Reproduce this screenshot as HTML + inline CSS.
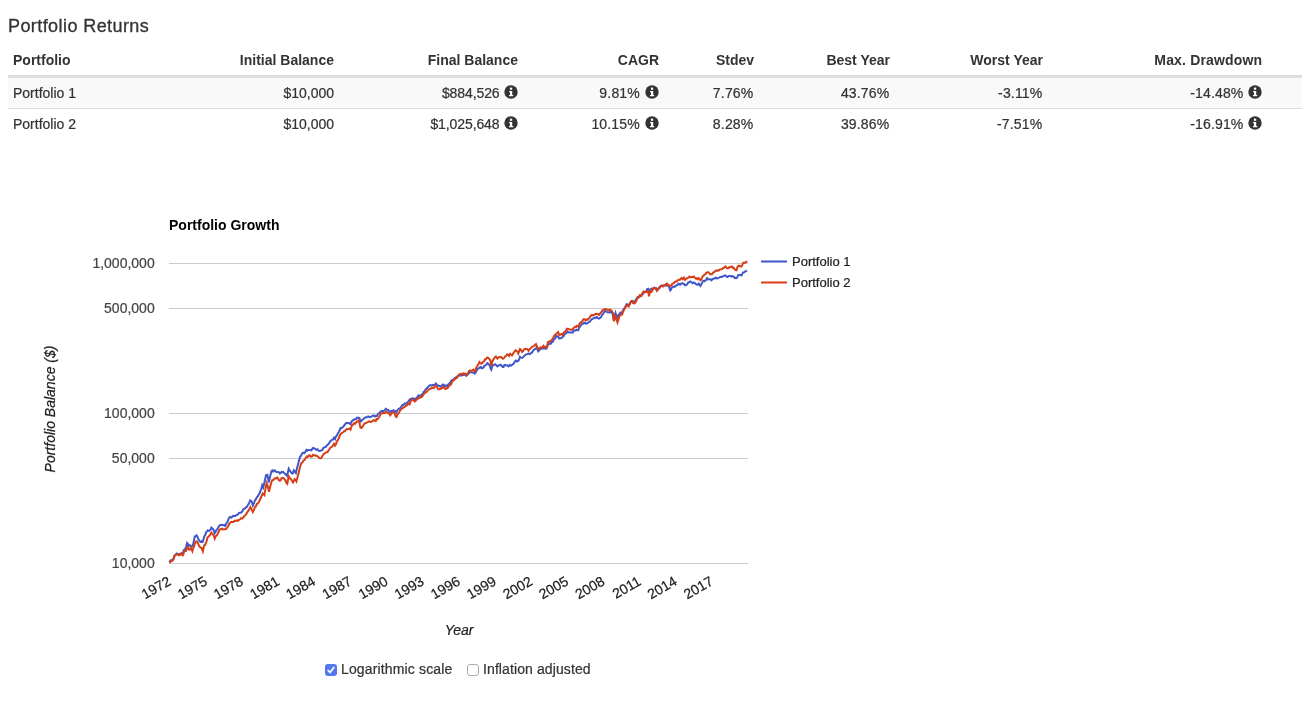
<!DOCTYPE html>
<html><head><meta charset="utf-8"><title>Portfolio Returns</title>
<style>
html,body{margin:0;padding:0;background:#fff;}
body{width:1302px;height:724px;position:relative;overflow:hidden;font-family:"Liberation Sans",Arial,Helvetica,sans-serif;font-size:14px;line-height:20px;color:#333;}
h4{position:absolute;left:8px;top:16px;margin:0;font-size:18px;font-weight:normal;line-height:20px;color:#333;white-space:nowrap;letter-spacing:0.42px;-webkit-text-stroke:0.3px #333;}
.tbl{position:absolute;left:8px;top:45px;width:1294px;height:94px;}
.hr{position:absolute;left:0;top:30px;width:1294px;height:2px;background:#ddd;}
.hr2{position:absolute;left:0;top:32px;width:1294px;height:1px;background:#e1e1e1;z-index:2;}
.r1{position:absolute;left:0;top:32px;width:1294px;height:31px;background:#f9f9f9;}
.r2{position:absolute;left:0;top:63px;width:1294px;height:1px;background:#ddd;}
.c{position:absolute;white-space:nowrap;height:20px;line-height:20px;-webkit-text-stroke:0.22px #333;}
.h{font-weight:bold;-webkit-text-stroke:0;}
.ic{position:absolute;}
.ck{position:absolute;top:664px;width:12px;height:12px;box-sizing:border-box;border-radius:3px;}
.ck.on{background:#5277ee;}
.ck.off{background:#fff;border:1px solid #aaa;}
.lb{position:absolute;top:659px;height:20px;line-height:20px;font-size:14px;color:#333;white-space:nowrap;letter-spacing:0.1px;-webkit-text-stroke:0.22px #333;}
svg text{font-family:"Liberation Sans",Arial,Helvetica,sans-serif;stroke-width:0.22px;}
svg text.a{stroke:#222;}svg text.t{stroke:#444;}svg text.k{stroke:none;}
</style></head><body>
<h4>Portfolio Returns</h4>
<div class="tbl"><div class="hr"></div><div class="hr2"></div><div class="r1"></div><div class="r2"></div>
<div class="c h" style="left:5px;top:5px">Portfolio</div><div class="c h" style="right:968.0px;top:5px;">Initial Balance</div><div class="c h" style="right:784.0px;top:5px;">Final Balance</div><div class="c h" style="right:643.0px;top:5px;">CAGR</div><div class="c h" style="right:548.0px;top:5px;">Stdev</div><div class="c h" style="right:412.0px;top:5px;">Best Year</div><div class="c h" style="right:259.0px;top:5px;">Worst Year</div><div class="c h" style="right:39.8px;top:5px;letter-spacing:0.16px;">Max. Drawdown</div><div class="c" style="left:5px;top:38px">Portfolio 1</div><div class="c" style="right:968.0px;top:38px;">$10,000</div><div class="c" style="right:802.5px;top:38px;letter-spacing:-0.1px;">$884,526</div><div class="c" style="right:662.1px;top:38px;letter-spacing:0.17px;">9.81%</div><div class="c" style="right:548.6px;top:38px;letter-spacing:0.17px;">7.76%</div><div class="c" style="right:412.6px;top:38px;letter-spacing:0.17px;">43.76%</div><div class="c" style="right:259.6px;top:38px;letter-spacing:0.17px;">-3.11%</div><div class="c" style="right:58.5px;top:38px;letter-spacing:0.17px;">-14.48%</div><div class="c" style="left:5px;top:69px">Portfolio 2</div><div class="c" style="right:968.0px;top:69px;">$10,000</div><div class="c" style="right:802.5px;top:69px;letter-spacing:-0.1px;">$1,025,648</div><div class="c" style="right:662.1px;top:69px;letter-spacing:0.17px;">10.15%</div><div class="c" style="right:548.6px;top:69px;letter-spacing:0.17px;">8.28%</div><div class="c" style="right:412.6px;top:69px;letter-spacing:0.17px;">39.86%</div><div class="c" style="right:259.6px;top:69px;letter-spacing:0.17px;">-7.51%</div><div class="c" style="right:58.5px;top:69px;letter-spacing:0.17px;">-16.91%</div></div>
<svg class="ic" style="left:503.9px;top:85.0px" width="14" height="14" viewBox="0 0 14 14"><circle cx="7" cy="7" r="6.7" fill="#333" class="a"/><rect x="5.9" y="2.6" width="2.3" height="2.2" fill="#fff"/><path d="M5.1 5.9h3.1v4h1v1.4H5v-1.4h1V7.2h-.9z" fill="#fff"/></svg><svg class="ic" style="left:644.9px;top:85.0px" width="14" height="14" viewBox="0 0 14 14"><circle cx="7" cy="7" r="6.7" fill="#333" class="a"/><rect x="5.9" y="2.6" width="2.3" height="2.2" fill="#fff"/><path d="M5.1 5.9h3.1v4h1v1.4H5v-1.4h1V7.2h-.9z" fill="#fff"/></svg><svg class="ic" style="left:1247.9px;top:85.0px" width="14" height="14" viewBox="0 0 14 14"><circle cx="7" cy="7" r="6.7" fill="#333" class="a"/><rect x="5.9" y="2.6" width="2.3" height="2.2" fill="#fff"/><path d="M5.1 5.9h3.1v4h1v1.4H5v-1.4h1V7.2h-.9z" fill="#fff"/></svg><svg class="ic" style="left:503.9px;top:116.0px" width="14" height="14" viewBox="0 0 14 14"><circle cx="7" cy="7" r="6.7" fill="#333" class="a"/><rect x="5.9" y="2.6" width="2.3" height="2.2" fill="#fff"/><path d="M5.1 5.9h3.1v4h1v1.4H5v-1.4h1V7.2h-.9z" fill="#fff"/></svg><svg class="ic" style="left:644.9px;top:116.0px" width="14" height="14" viewBox="0 0 14 14"><circle cx="7" cy="7" r="6.7" fill="#333" class="a"/><rect x="5.9" y="2.6" width="2.3" height="2.2" fill="#fff"/><path d="M5.1 5.9h3.1v4h1v1.4H5v-1.4h1V7.2h-.9z" fill="#fff"/></svg><svg class="ic" style="left:1247.9px;top:116.0px" width="14" height="14" viewBox="0 0 14 14"><circle cx="7" cy="7" r="6.7" fill="#333" class="a"/><rect x="5.9" y="2.6" width="2.3" height="2.2" fill="#fff"/><path d="M5.1 5.9h3.1v4h1v1.4H5v-1.4h1V7.2h-.9z" fill="#fff"/></svg>
<svg style="position:absolute;left:0;top:0" width="1302" height="724" viewBox="0 0 1302 724">
<text x="169" y="229.5" font-size="14" font-weight="bold" fill="#000" class="k">Portfolio Growth</text>
<rect x="169" y="263" width="579" height="1" fill="#ccc"/>
<text x="154.7" y="268.1" font-size="14" text-anchor="end" fill="#444" class="t">1,000,000</text>
<rect x="169" y="308" width="579" height="1" fill="#ccc"/>
<text x="154.7" y="313.1" font-size="14" text-anchor="end" fill="#444" class="t">500,000</text>
<rect x="169" y="413" width="579" height="1" fill="#ccc"/>
<text x="154.7" y="418.1" font-size="14" text-anchor="end" fill="#444" class="t">100,000</text>
<rect x="169" y="458" width="579" height="1" fill="#ccc"/>
<text x="154.7" y="463.1" font-size="14" text-anchor="end" fill="#444" class="t">50,000</text>
<rect x="169" y="563" width="579" height="1" fill="#ccc"/>
<text x="154.7" y="568.1" font-size="14" text-anchor="end" fill="#444" class="t">10,000</text>
<text x="172.0" y="584" font-size="14" text-anchor="end" fill="#222" class="a" transform="rotate(-30 172.0 584)">1972</text>
<text x="208.2" y="584" font-size="14" text-anchor="end" fill="#222" class="a" transform="rotate(-30 208.2 584)">1975</text>
<text x="244.3" y="584" font-size="14" text-anchor="end" fill="#222" class="a" transform="rotate(-30 244.3 584)">1978</text>
<text x="280.4" y="584" font-size="14" text-anchor="end" fill="#222" class="a" transform="rotate(-30 280.4 584)">1981</text>
<text x="316.6" y="584" font-size="14" text-anchor="end" fill="#222" class="a" transform="rotate(-30 316.6 584)">1984</text>
<text x="352.8" y="584" font-size="14" text-anchor="end" fill="#222" class="a" transform="rotate(-30 352.8 584)">1987</text>
<text x="388.9" y="584" font-size="14" text-anchor="end" fill="#222" class="a" transform="rotate(-30 388.9 584)">1990</text>
<text x="425.0" y="584" font-size="14" text-anchor="end" fill="#222" class="a" transform="rotate(-30 425.0 584)">1993</text>
<text x="461.2" y="584" font-size="14" text-anchor="end" fill="#222" class="a" transform="rotate(-30 461.2 584)">1996</text>
<text x="497.3" y="584" font-size="14" text-anchor="end" fill="#222" class="a" transform="rotate(-30 497.3 584)">1999</text>
<text x="533.5" y="584" font-size="14" text-anchor="end" fill="#222" class="a" transform="rotate(-30 533.5 584)">2002</text>
<text x="569.6" y="584" font-size="14" text-anchor="end" fill="#222" class="a" transform="rotate(-30 569.6 584)">2005</text>
<text x="605.8" y="584" font-size="14" text-anchor="end" fill="#222" class="a" transform="rotate(-30 605.8 584)">2008</text>
<text x="642.0" y="584" font-size="14" text-anchor="end" fill="#222" class="a" transform="rotate(-30 642.0 584)">2011</text>
<text x="678.1" y="584" font-size="14" text-anchor="end" fill="#222" class="a" transform="rotate(-30 678.1 584)">2014</text>
<text x="714.2" y="584" font-size="14" text-anchor="end" fill="#222" class="a" transform="rotate(-30 714.2 584)">2017</text>
<text x="459.1" y="634.5" font-size="14" font-style="italic" text-anchor="middle" fill="#222" class="a">Year</text>
<text x="54.5" y="409" font-size="14" font-style="italic" text-anchor="middle" fill="#222" class="a" transform="rotate(-90 54.5 409)">Portfolio Balance ($)</text>
<path d="M169.4,562.4L170.2,560.7L171.1,560.2L172.2,560.2L173.3,559.1L174.4,555.7L175.5,555.1L176.6,553.5L177.7,553.7L178.8,554.6L179.7,554.1L180.7,553.5L181.6,553.0L182.7,554.1L183.8,550.2L184.6,549.6L185.4,548.6L186.3,546.3L187.1,543.0L187.9,543.8L188.8,545.8L189.9,545.2L191.0,546.7L192.1,546.4L193.2,544.1L194.0,540.2L194.8,536.4L195.7,536.3L196.5,535.3L197.3,536.2L198.1,538.6L199.0,539.9L199.8,541.4L200.7,541.9L201.6,541.3L202.6,541.9L203.4,539.9L204.2,536.4L205.1,535.4L206.1,532.3L207.0,531.4L207.9,530.3L208.8,530.8L209.8,530.3L210.6,529.7L211.4,527.6L212.2,528.2L213.1,529.2L213.9,530.7L214.7,533.1L215.6,531.7L216.6,529.8L217.5,529.2L218.6,526.8L219.7,525.4L220.8,525.0L221.9,524.8L223.0,525.2L224.1,525.1L225.2,525.9L226.3,523.5L227.4,522.0L228.5,519.1L229.6,517.1L230.5,517.3L231.3,517.6L232.2,516.7L233.1,515.8L234.1,516.0L235.0,516.1L235.9,515.3L236.8,514.9L237.9,514.4L239.0,512.9L240.1,512.7L241.2,512.5L242.3,511.3L243.5,509.1L244.6,508.8L245.5,507.6L246.4,507.3L247.3,506.0L248.2,504.5L249.2,503.0L250.1,500.5L250.9,500.9L251.7,501.6L252.8,505.5L253.9,503.3L255.0,500.2L255.9,499.1L256.8,497.3L257.8,496.3L258.7,494.6L259.6,493.2L260.5,490.8L261.4,488.6L262.2,485.2L263.3,487.5L264.1,483.9L264.9,480.3L266.0,475.3L267.4,474.8L268.8,482.5L269.6,478.8L270.5,474.8L271.6,470.9L272.4,470.4L273.2,471.4L274.1,470.5L274.9,470.3L275.7,471.6L276.5,472.0L277.4,471.9L278.2,472.0L279.0,472.3L279.9,473.6L280.7,472.9L281.5,472.0L282.3,472.3L283.2,472.0L284.0,473.1L284.8,473.6L285.9,474.6L287.0,475.9L287.9,472.2L288.7,468.7L289.5,470.1L290.4,471.4L291.5,473.0L292.6,473.6L293.9,470.3L294.9,471.7L295.9,473.1L296.7,469.6L297.5,466.5L298.4,463.1L299.2,459.8L300.0,457.1L300.9,456.0L302.0,453.6L303.1,452.7L304.2,453.2L305.3,451.9L306.4,449.9L307.3,450.7L308.2,450.0L309.1,449.9L310.2,450.0L311.4,450.4L312.5,448.2L313.4,447.9L314.3,448.6L315.2,448.8L316.3,449.8L317.4,449.3L318.5,450.6L319.6,451.0L320.5,450.8L321.3,450.4L322.2,450.1L323.1,448.2L324.1,447.7L325.0,447.0L325.9,446.9L326.8,445.5L327.7,444.8L328.5,443.8L329.4,442.6L330.3,441.2L331.2,440.5L332.2,439.7L333.1,439.4L334.0,437.7L335.0,439.1L335.9,436.4L336.8,435.8L337.8,433.5L338.7,432.2L339.6,430.5L340.5,428.0L341.4,428.1L342.2,427.5L343.3,426.8L344.4,425.2L345.2,424.2L346.0,423.0L347.2,423.1L348.3,423.0L349.4,423.5L350.5,424.1L351.6,421.5L352.7,420.3L353.5,420.3L354.3,419.2L355.2,419.3L356.0,419.2L356.8,417.9L357.7,417.5L358.5,417.8L359.3,418.1L360.1,419.7L361.0,421.4L362.1,420.0L363.2,419.2L364.3,418.1L365.4,417.5L366.3,417.2L367.2,417.0L368.1,416.4L369.3,416.9L370.4,417.0L371.5,416.3L372.6,415.9L373.7,415.4L374.8,416.4L375.9,415.7L377.0,415.9L378.1,414.0L379.2,413.1L380.3,412.1L381.4,410.9L382.5,411.5L383.6,410.9L384.7,410.3L385.8,408.7L386.9,409.7L388.0,409.8L389.1,411.4L390.2,412.0L391.1,411.0L391.9,410.9L392.7,411.2L393.6,410.3L394.5,411.3L395.4,411.1L396.3,412.5L397.2,410.5L398.2,409.2L399.1,408.7L400.2,408.0L401.3,406.5L402.4,405.2L403.5,404.8L404.6,403.6L405.7,403.7L406.6,403.2L407.6,402.0L408.5,401.5L409.4,399.9L410.3,399.1L411.2,398.7L412.1,398.5L412.9,398.2L413.7,398.5L414.6,399.8L415.5,398.6L416.4,398.3L417.3,397.1L418.4,395.4L419.3,395.6L420.1,396.0L420.9,395.1L421.7,394.9L422.7,393.7L423.6,391.9L424.5,391.5L425.0,390.2L426.1,388.9L427.2,388.0L428.3,386.7L429.4,385.7L430.5,385.2L431.6,385.7L432.7,384.8L433.8,385.2L434.8,385.0L435.8,383.5L436.8,384.7L437.7,385.7L438.8,385.6L439.9,386.3L440.8,385.9L441.8,385.7L442.7,384.6L443.8,384.7L444.9,386.3L446.0,385.5L447.1,386.3L448.2,384.4L449.3,383.5L450.2,382.8L451.2,380.8L452.1,380.2L453.0,379.8L453.9,379.0L454.8,378.0L455.9,377.5L457.0,376.9L458.1,375.4L459.3,374.7L460.2,375.6L461.1,375.5L462.0,375.2L463.1,375.0L464.2,374.7L465.2,374.8L466.1,375.8L467.1,375.2L468.1,374.1L469.2,372.9L470.3,371.9L471.4,372.3L472.5,372.5L473.6,372.8L474.7,373.6L475.8,372.1L476.9,370.3L478.0,368.5L479.1,368.1L480.0,367.2L480.8,367.0L481.6,368.3L482.5,368.1L483.4,367.7L484.3,365.9L485.2,365.3L486.3,364.8L487.4,363.1L488.5,363.9L489.6,365.3L490.5,368.2L491.3,369.7L492.6,365.3L493.9,365.1L495.2,364.2L496.3,365.2L497.4,366.4L498.5,365.5L499.6,365.3L500.7,364.8L501.8,365.9L502.6,367.0L503.5,367.0L504.3,365.1L505.1,364.8L506.2,365.5L507.3,365.3L508.6,366.4L510.1,364.8L511.2,365.5L512.3,364.8L513.4,363.8L514.5,362.5L515.0,361.3L516.1,360.6L517.2,361.5L518.3,360.7L519.1,359.5L520.0,356.9L521.1,357.7L522.2,358.0L523.3,356.9L524.4,355.7L525.3,355.0L526.2,354.4L527.2,354.1L528.3,353.6L529.4,354.1L530.3,353.8L531.2,352.9L532.1,352.4L533.0,350.8L534.0,349.6L534.9,349.1L535.7,348.6L536.5,347.5L537.4,349.1L538.2,351.3L539.3,350.2L540.4,349.1L541.5,348.6L542.6,348.6L543.5,348.6L544.3,347.5L545.4,348.7L546.5,348.6L547.6,345.6L548.7,344.1L549.8,343.4L550.9,343.6L551.8,342.0L552.8,341.8L553.7,339.7L554.8,338.9L555.9,336.9L557.0,335.9L558.1,336.8L559.2,338.6L560.3,338.3L561.4,338.1L562.5,337.0L563.4,336.5L564.4,334.5L565.3,333.6L566.4,333.2L567.5,331.4L568.6,332.3L569.7,332.5L570.8,332.5L571.9,332.5L572.8,332.6L573.7,330.6L574.7,330.3L575.8,330.4L576.9,329.8L578.2,330.3L579.2,327.7L580.2,326.5L581.3,324.6L582.4,323.7L583.2,323.8L584.1,322.6L584.9,322.7L585.7,323.7L586.8,323.6L587.9,322.8L589.0,322.0L590.1,321.5L591.2,319.8L592.2,319.1L593.1,318.5L594.0,318.2L594.9,317.5L595.8,318.0L596.8,317.1L597.9,318.1L599.0,318.7L600.0,318.0L601.1,317.1L602.2,314.7L603.3,313.6L604.4,311.4L605.5,311.0L606.6,311.9L607.7,312.3L608.8,312.5L609.9,311.8L611.0,312.5L611.9,312.5L612.7,314.1L613.8,320.7L614.6,316.2L615.5,313.0L616.3,316.1L617.1,318.0L618.2,315.2L619.3,314.3L620.4,312.5L621.3,313.0L622.1,312.5L622.9,310.5L623.8,309.1L624.7,307.7L625.6,306.3L626.5,304.2L627.6,304.5L628.7,305.3L629.7,304.1L630.6,302.3L631.5,301.4L632.4,300.9L633.3,301.4L634.3,302.0L635.1,301.5L635.9,299.8L636.7,298.5L637.6,297.0L638.5,297.5L639.4,296.6L640.3,296.4L641.4,295.0L642.5,294.2L643.4,293.6L644.2,292.0L645.3,292.0L646.4,290.9L647.2,289.0L648.1,288.7L648.9,289.8L649.7,290.4L650.6,289.2L651.6,288.6L652.5,288.7L653.4,289.1L654.3,287.6L655.2,288.1L656.4,288.3L657.5,289.3L658.4,289.1L659.3,287.3L660.2,286.5L661.1,285.7L662.1,285.6L663.0,285.9L664.1,285.2L665.2,285.4L666.3,285.8L667.4,285.4L668.2,285.6L669.1,287.0L670.2,290.4L671.0,289.6L671.8,287.6L672.9,286.8L674.0,286.5L675.1,286.7L676.2,285.4L677.3,285.2L678.5,283.7L679.2,283.9L680.0,284.8L681.1,283.5L682.2,283.1L683.1,283.8L684.1,283.9L685.0,285.3L686.1,285.0L687.2,284.2L688.3,282.4L689.4,282.0L690.5,281.5L691.6,282.5L692.7,283.3L693.8,282.5L694.9,283.0L696.0,284.2L696.9,284.6L697.7,284.8L698.8,283.6L699.6,284.7L700.4,285.9L701.3,284.2L702.1,283.1L702.9,281.3L703.8,280.9L704.6,281.3L705.4,280.3L706.2,280.0L707.1,278.1L708.2,279.4L709.3,279.2L710.4,279.2L711.5,280.3L712.6,279.0L713.7,278.7L714.8,278.3L715.9,277.6L717.0,278.6L718.1,278.1L719.2,277.6L720.3,277.0L721.4,277.0L722.5,276.5L723.6,276.2L724.8,275.4L725.9,275.8L727.0,277.0L728.1,276.5L729.2,275.9L730.3,275.9L731.4,276.5L732.2,276.1L733.0,276.5L733.9,276.6L734.7,278.1L735.5,277.8L736.4,278.1L737.2,277.5L738.0,275.4L739.1,275.0L740.2,274.8L741.5,275.4L743.0,272.6L744.1,272.3L745.2,271.5L746.0,271.2L746.9,270.4" fill="none" stroke="#3f57c8" stroke-width="2"/>
<path d="M169.4,562.4L170.2,562.3L171.1,560.7L172.2,560.9L173.3,559.6L174.4,556.3L175.5,554.8L176.6,554.6L177.7,554.3L178.8,555.2L179.7,555.2L180.7,554.5L181.6,553.5L182.7,555.2L183.5,553.5L184.3,551.3L185.2,550.7L186.0,550.8L186.8,549.0L187.7,546.9L188.5,548.5L189.3,549.7L190.1,549.0L191.0,548.0L192.4,551.3L193.2,548.3L194.0,546.4L195.4,541.9L196.2,541.5L197.0,541.4L198.1,543.7L199.3,546.4L200.4,547.5L201.5,548.0L202.8,551.3L204.2,545.2L205.1,544.9L205.9,543.0L206.7,541.0L207.5,537.5L208.6,536.5L209.8,535.3L210.6,533.8L211.4,532.5L212.2,533.3L213.1,534.8L213.9,535.9L214.7,538.6L215.6,536.4L216.6,535.6L217.5,534.2L218.6,531.7L219.7,529.8L220.8,529.0L221.9,528.7L222.7,529.6L223.6,529.2L224.7,529.3L225.8,529.2L226.9,527.9L228.0,526.5L229.1,524.1L230.2,522.6L231.3,521.7L232.4,521.9L233.5,522.0L234.6,520.9L235.7,521.0L236.8,520.4L237.9,520.8L239.0,519.9L240.1,519.3L241.1,518.1L242.1,518.5L243.0,517.7L244.0,516.5L245.1,515.4L246.2,514.2L247.3,512.1L248.3,510.9L249.3,509.2L250.3,507.1L251.6,509.4L252.8,512.1L253.9,510.2L255.0,506.8L255.9,506.4L256.8,504.0L257.8,503.5L258.7,502.2L259.6,500.5L260.5,498.5L261.6,496.0L262.7,493.5L263.6,494.4L264.4,495.2L265.5,488.6L266.6,483.0L267.7,485.8L269.0,491.9L270.5,485.2L271.3,482.7L272.1,480.3L273.2,480.1L274.3,478.6L275.3,478.3L276.2,478.4L277.1,477.5L278.0,478.4L278.9,480.3L279.9,480.8L280.7,480.1L281.5,478.1L282.6,478.0L283.7,478.1L284.6,479.3L285.4,480.3L286.3,482.6L287.3,483.6L288.7,476.4L289.8,478.1L290.9,479.2L292.0,480.8L293.1,482.5L294.6,479.2L295.5,479.8L296.4,481.4L297.3,478.1L298.1,475.3L298.9,472.0L299.8,468.1L300.6,465.1L301.4,463.1L302.5,462.4L303.6,460.4L304.7,459.8L305.8,457.8L306.9,456.5L307.9,456.8L308.8,455.5L309.7,455.4L310.8,456.7L311.9,456.5L313.0,454.9L313.9,455.4L314.9,455.2L315.8,455.4L316.9,456.0L318.0,456.5L318.8,457.6L319.6,458.2L320.5,458.3L321.3,458.2L322.4,455.9L323.5,454.3L324.6,453.1L325.7,452.9L326.8,452.1L327.7,452.0L328.5,450.4L329.4,449.5L330.3,447.6L331.2,447.1L332.2,446.5L333.1,445.3L334.0,443.8L335.0,445.7L335.9,444.5L336.8,441.5L337.8,440.2L338.9,438.3L340.0,435.0L341.1,433.5L342.2,433.0L343.3,431.9L344.1,431.2L344.9,431.3L345.8,429.8L346.6,429.1L347.7,429.4L348.8,428.6L349.6,428.5L350.5,429.7L351.3,427.2L352.1,424.7L353.0,424.7L353.8,423.6L354.6,423.2L355.4,423.6L356.3,422.0L357.1,421.4L357.9,421.4L358.8,420.3L359.6,423.7L360.4,427.5L361.5,428.0L362.6,426.7L363.7,424.7L364.8,423.1L365.9,423.0L367.0,422.3L368.1,421.9L369.3,421.4L370.4,421.9L371.5,421.7L372.6,420.8L373.7,420.2L374.8,420.8L375.7,421.0L376.6,419.0L377.5,419.2L378.6,417.9L379.8,415.9L380.6,414.0L381.4,413.6L382.5,413.0L383.6,413.1L384.7,413.0L385.8,412.0L386.9,412.0L388.0,413.1L389.1,413.7L390.2,415.3L391.1,414.2L391.9,412.5L392.7,412.4L393.6,412.5L394.6,413.3L395.6,416.3L396.5,417.0L397.8,414.2L399.1,412.5L400.2,410.1L401.3,409.2L402.4,408.1L403.5,407.6L404.6,406.9L405.7,405.9L406.8,405.5L407.9,404.3L408.8,403.6L409.6,404.3L410.4,402.1L411.2,400.4L412.1,399.4L412.9,399.8L413.7,400.6L414.6,401.5L415.5,401.0L416.4,400.0L417.3,398.7L418.1,398.8L419.0,397.6L420.1,397.8L421.2,397.1L422.3,396.4L423.4,394.8L424.5,393.2L425.0,392.9L426.1,392.1L427.2,391.3L428.3,389.7L429.4,389.1L430.5,388.8L431.6,388.0L432.7,387.7L433.8,388.0L434.8,386.2L435.8,385.7L436.8,387.0L437.7,388.5L438.8,389.4L439.9,389.1L440.7,388.2L441.6,388.5L442.4,387.8L443.2,386.9L444.3,387.8L445.4,389.1L446.5,388.5L447.7,388.0L448.8,386.0L449.9,385.2L451.0,384.3L452.1,381.9L453.0,380.6L453.9,380.2L454.8,379.1L455.9,378.4L457.0,378.0L458.0,376.0L458.9,375.5L459.8,374.1L460.9,373.8L462.0,374.7L463.1,373.4L464.2,373.6L465.3,373.7L466.4,375.2L467.3,373.6L468.1,373.0L468.9,371.0L469.8,370.3L470.9,370.8L472.0,370.8L473.3,369.7L474.7,371.4L475.8,368.9L476.9,366.4L478.4,364.2L479.5,362.0L480.8,363.6L481.9,363.6L483.0,362.0L484.1,361.3L485.2,359.2L486.0,359.2L486.9,357.6L488.0,357.7L489.1,358.7L490.4,360.3L491.3,365.9L492.6,360.9L493.6,359.1L494.6,357.6L495.9,356.5L497.4,358.7L498.5,357.4L499.6,357.0L500.4,357.2L501.2,357.0L502.1,358.0L502.9,358.7L504.0,358.0L505.1,356.5L506.2,355.7L507.3,354.3L508.1,354.7L509.0,355.9L510.1,353.7L511.0,354.4L512.0,355.4L513.4,353.1L514.2,352.0L515.0,350.8L515.8,350.3L516.7,351.3L517.5,351.7L518.3,353.5L519.1,351.2L520.0,349.1L521.1,349.9L522.2,351.9L523.3,350.9L524.4,349.1L525.5,348.7L526.6,349.1L527.5,349.3L528.5,350.8L529.5,349.2L530.5,348.6L531.4,347.4L532.3,346.6L533.2,346.4L534.2,345.7L535.1,344.8L536.0,344.1L536.8,346.0L537.7,348.6L538.8,348.5L539.9,348.0L540.7,347.3L541.5,347.5L542.5,347.3L543.5,345.8L544.3,347.1L545.1,346.9L545.9,347.5L546.7,347.5L548.1,341.9L549.3,341.6L550.4,341.4L551.3,340.3L552.2,339.3L553.1,338.1L554.2,335.7L555.3,334.8L556.3,333.7L557.2,332.9L558.1,332.0L559.4,335.3L560.9,334.2L561.7,334.0L562.5,334.8L563.6,332.7L564.7,332.0L565.8,330.8L566.9,328.7L568.0,328.7L569.1,329.2L570.2,329.5L571.4,329.8L572.3,329.7L573.2,328.5L574.1,327.6L575.0,326.7L576.0,327.2L576.9,325.9L577.7,326.0L578.5,326.5L579.5,323.8L580.4,322.6L581.4,322.1L582.4,320.9L583.5,319.3L584.6,319.2L585.7,320.4L586.6,319.5L587.6,319.8L588.5,318.7L589.6,317.6L590.7,316.0L591.8,314.9L592.9,315.4L594.0,314.8L595.1,314.2L596.2,313.8L597.1,314.1L598.1,314.0L599.0,314.9L600.0,313.6L601.1,312.3L602.2,310.8L603.1,309.6L604.1,309.4L605.0,309.1L606.1,309.2L607.2,309.7L608.3,310.4L609.4,309.7L610.5,309.6L611.6,310.8L613.0,313.0L614.0,321.3L615.5,315.2L616.5,319.2L617.5,322.4L618.8,318.5L619.6,316.1L620.4,314.7L621.3,314.8L622.1,314.7L622.9,312.3L623.8,310.2L624.7,308.5L625.6,307.3L626.5,305.3L627.6,305.7L628.7,306.4L629.7,303.9L630.6,302.1L631.5,300.9L632.3,301.3L633.1,303.1L634.3,303.4L635.4,302.5L636.5,300.3L637.6,297.5L638.7,297.2L639.8,295.3L640.6,295.9L641.4,295.9L642.5,292.9L643.6,291.5L644.8,292.0L645.9,292.0L647.0,291.9L648.1,290.9L649.0,296.4L649.9,291.5L651.4,292.0L652.2,290.7L653.0,288.7L654.1,288.4L655.2,288.1L656.1,289.3L656.9,290.9L658.0,289.5L659.1,288.1L659.9,287.5L660.8,285.9L661.9,285.8L663.0,286.5L664.1,285.7L665.2,284.8L666.0,284.2L666.9,283.7L667.7,285.0L668.5,284.8L669.3,285.9L670.2,285.9L671.3,285.5L672.4,283.7L673.5,283.4L674.6,282.1L675.7,281.5L676.8,281.5L677.6,280.3L678.5,279.9L679.2,279.8L680.0,279.8L680.8,278.6L681.7,278.1L682.8,279.2L683.9,277.6L685.0,279.8L686.1,278.8L687.2,278.1L688.3,277.6L689.4,276.5L690.5,277.4L691.6,277.0L692.7,276.9L693.8,276.5L694.9,278.1L696.0,278.7L696.9,278.3L697.7,279.2L698.8,278.1L699.6,279.0L700.4,280.3L701.3,279.7L702.1,277.6L702.9,275.9L703.8,275.4L704.6,274.7L705.4,274.3L706.2,272.7L707.1,272.6L708.2,272.2L709.3,273.1L710.1,274.3L710.9,274.3L712.0,274.2L713.1,272.6L714.0,272.3L714.8,271.5L715.9,270.6L717.0,270.9L717.8,270.3L718.7,270.4L719.8,269.4L720.9,269.3L722.0,269.0L723.1,268.2L724.2,267.6L725.3,266.5L726.1,267.3L727.0,268.2L727.8,268.2L728.6,268.2L729.4,267.0L730.3,267.1L731.1,266.9L731.9,266.5L732.8,267.8L733.6,267.6L734.7,269.3L735.5,270.2L736.4,270.4L737.7,266.5L738.7,265.6L739.7,266.0L740.5,266.3L741.3,266.5L742.2,265.2L743.0,263.2L744.1,262.5L745.2,262.7L746.0,262.5L746.9,261.0" fill="none" stroke="#d73e17" stroke-width="2"/>
<rect x="761" y="260.5" width="26" height="2" fill="#3f57c8"/>
<rect x="761" y="281.5" width="26" height="2" fill="#d73e17"/>
<text x="792" y="266" font-size="13" fill="#222" class="a">Portfolio 1</text>
<text x="792" y="287" font-size="13" fill="#222" class="a">Portfolio 2</text>
</svg>
<div class="ck on" style="left:325px"><svg width="12" height="12" viewBox="0 0 12 12" style="display:block"><path d="M3.1 6.4L5.1 8.5L8.8 3.5" fill="none" stroke="#fff" stroke-width="1.7" stroke-linecap="round"/></svg></div>
<div class="lb" style="left:341px;letter-spacing:0.15px">Logarithmic scale</div>
<div class="ck off" style="left:467px"></div>
<div class="lb" style="left:483px">Inflation adjusted</div>
</body></html>
